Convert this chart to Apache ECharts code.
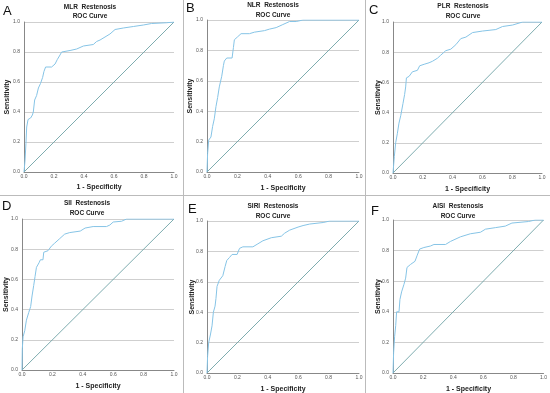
<!DOCTYPE html>
<html><head><meta charset="utf-8">
<script src="https://cdn.jsdelivr.net/npm/echarts@6/dist/echarts.min.js"></script>
<style>html,body{margin:0;padding:0;background:#fff}#c{width:550px;height:393px}</style>
</head><body><div id="c"></div>
<script>
// ---- data ----
const panelLetters = ['A','B','C','D','E','F'];
const markers = ['MLR','NLR','PLR','SII','SIRI','AISI'];
const titleSuffix = 'Restenosis';
const subTitle = 'ROC Curve';
const xAxisTitle = '1 - Specificity';
const yAxisTitle = 'Sensitivity';
const tickValues = [0, 0.2, 0.4, 0.6, 0.8, 1.0];
const diagonal = [[0,0],[1,1]];

const mlrRoc = [[0,0],[0.007,0.08],[0.013,0.19],[0.018,0.30],[0.027,0.35],[0.044,0.36],[0.056,0.38],[0.062,0.40],[0.071,0.48],[0.084,0.51],[0.096,0.56],[0.11,0.59],[0.124,0.63],[0.133,0.67],[0.144,0.70],[0.184,0.70],[0.207,0.72],[0.222,0.75],[0.24,0.78],[0.251,0.80],[0.307,0.81],[0.351,0.82],[0.396,0.84],[0.462,0.85],[0.484,0.87],[0.507,0.88],[0.54,0.90],[0.573,0.92],[0.607,0.95],[0.662,0.96],[0.729,0.97],[0.796,0.98],[0.85,0.99],[0.95,0.995],[1,1]];
const nlrRoc = [[0,0],[0.004,0.12],[0.011,0.21],[0.026,0.23],[0.037,0.30],[0.048,0.35],[0.059,0.43],[0.07,0.49],[0.081,0.56],[0.097,0.63],[0.108,0.70],[0.114,0.73],[0.13,0.75],[0.165,0.75],[0.174,0.82],[0.18,0.87],[0.202,0.89],[0.224,0.91],[0.279,0.91],[0.312,0.92],[0.378,0.93],[0.411,0.94],[0.455,0.95],[0.499,0.97],[0.543,0.99],[0.587,0.99],[0.631,1.0],[1,1]];
const plrRoc = [[0,0],[0.009,0.11],[0.018,0.20],[0.029,0.26],[0.04,0.33],[0.052,0.38],[0.067,0.46],[0.078,0.52],[0.085,0.57],[0.09,0.63],[0.108,0.64],[0.13,0.67],[0.164,0.68],[0.179,0.71],[0.209,0.72],[0.242,0.73],[0.265,0.74],[0.298,0.76],[0.32,0.78],[0.354,0.81],[0.388,0.82],[0.422,0.85],[0.455,0.89],[0.489,0.90],[0.534,0.93],[0.6,0.94],[0.69,0.95],[0.735,0.97],[0.803,0.98],[0.87,1.0],[1,1]];
const siiRoc = [[0,0],[0.002,0.14],[0.007,0.22],[0.018,0.26],[0.029,0.33],[0.044,0.38],[0.057,0.42],[0.066,0.49],[0.077,0.56],[0.086,0.62],[0.095,0.68],[0.112,0.71],[0.121,0.73],[0.138,0.73],[0.143,0.78],[0.171,0.79],[0.193,0.82],[0.215,0.84],[0.248,0.87],[0.281,0.90],[0.314,0.91],[0.383,0.92],[0.415,0.94],[0.468,0.95],[0.556,0.95],[0.578,0.96],[0.6,0.98],[0.655,0.985],[0.688,1.0],[1,1]];
const siriRoc = [[0,0],[0.004,0.11],[0.011,0.20],[0.022,0.25],[0.033,0.31],[0.042,0.40],[0.053,0.44],[0.059,0.49],[0.066,0.57],[0.081,0.61],[0.104,0.64],[0.119,0.70],[0.13,0.74],[0.148,0.76],[0.165,0.78],[0.198,0.78],[0.214,0.82],[0.236,0.83],[0.302,0.83],[0.335,0.85],[0.368,0.87],[0.423,0.89],[0.489,0.90],[0.511,0.92],[0.544,0.94],[0.599,0.96],[0.632,0.97],[0.676,0.98],[0.764,0.99],[0.808,1.0],[1,1]];
const aisiRoc = [[0,0],[0.004,0.13],[0.011,0.24],[0.018,0.31],[0.024,0.40],[0.04,0.40],[0.046,0.48],[0.057,0.53],[0.073,0.58],[0.084,0.62],[0.093,0.69],[0.117,0.71],[0.146,0.73],[0.161,0.77],[0.177,0.81],[0.205,0.82],[0.249,0.83],[0.272,0.84],[0.349,0.84],[0.382,0.86],[0.448,0.89],[0.514,0.91],[0.581,0.92],[0.614,0.94],[0.68,0.95],[0.746,0.96],[0.79,0.98],[0.9,0.99],[0.945,1.0],[1,1]];
const rocCurves = [mlrRoc, nlrRoc, plrRoc, siiRoc, siriRoc, aisiRoc];

// ---- layout ----
const grids = [
  {left:24, top:22, width:150, height:150},
  {left:207, top:20, width:152, height:152},
  {left:393, top:22, width:149, height:151},
  {left:22, top:219, width:152, height:151},
  {left:207, top:221, width:152, height:152},
  {left:393, top:220, width:151, height:153}
];
const titlePos = [
  {x:90, y1:7, y2:16},
  {x:273, y1:5, y2:15},
  {x:463, y1:6, y2:16},
  {x:87, y1:203, y2:213},
  {x:273, y1:206, y2:216},
  {x:458, y1:206, y2:216}
];
const letterPos = [
  {x:3, y:11}, {x:186, y:8}, {x:369, y:10},
  {x:2, y:206}, {x:188, y:209}, {x:371, y:211}
];
const sensX = [7, 190, 378, 6, 192, 378];
const specY = [187, 188, 189, 386, 389, 389];

const FONT = '"Liberation Sans", Arial, sans-serif';
const curveColor = '#86c4e6';
const diagColor = '#6fa3a6';

const xAxes = [], yAxes = [], series = [], graphics = [];
grids.forEach((g, i) => {
  xAxes.push({
    gridIndex: i, type: 'value', min: 0, max: 1, interval: 0.2,
    axisLine: {show: true, lineStyle: {color: '#888', width: 1}},
    axisTick: {show: false}, splitLine: {show: false},
    axisLabel: {fontSize: 5, color: '#555', margin: 2, fontFamily: FONT,
      formatter: v => v.toFixed(1)}
  });
  yAxes.push({
    gridIndex: i, type: 'value', min: 0, max: 1, interval: 0.2,
    axisLine: {show: true, lineStyle: {color: '#888', width: 1}},
    axisTick: {show: false},
    splitLine: {show: true, lineStyle: {color: '#cfcfcf', width: 1}},
    axisLabel: {fontSize: 5, color: '#555', margin: 4, fontFamily: FONT,
      formatter: v => v.toFixed(1)}
  });
  series.push({
    type: 'line', xAxisIndex: i, yAxisIndex: i, data: diagonal,
    showSymbol: false, silent: true, lineStyle: {color: diagColor, width: 0.9}
  });
  series.push({
    type: 'line', xAxisIndex: i, yAxisIndex: i, data: rocCurves[i],
    showSymbol: false, silent: true, lineStyle: {color: curveColor, width: 1}
  });
  const t = titlePos[i];
  graphics.push({type: 'text', x: t.x, y: t.y1, style: {text: markers[i] + '  ' + titleSuffix,
    font: 'bold 6.5px ' + FONT, fill: '#222', textAlign: 'center', textVerticalAlign: 'middle'}});
  graphics.push({type: 'text', x: t.x, y: t.y2, style: {text: subTitle,
    font: 'bold 6.5px ' + FONT, fill: '#222', textAlign: 'center', textVerticalAlign: 'middle'}});
  const l = letterPos[i];
  graphics.push({type: 'text', x: l.x, y: l.y, style: {text: panelLetters[i],
    font: '13px ' + FONT, fill: '#111', textAlign: 'left', textVerticalAlign: 'middle'}});
  graphics.push({type: 'text', x: sensX[i], y: g.top + g.height / 2, rotation: Math.PI / 2,
    style: {text: yAxisTitle, font: 'bold 7px ' + FONT, fill: '#222', textAlign: 'center', textVerticalAlign: 'middle'}});
  graphics.push({type: 'text', x: g.left + g.width / 2, y: specY[i],
    style: {text: xAxisTitle, font: 'bold 7px ' + FONT, fill: '#222', textAlign: 'center', textVerticalAlign: 'middle'}});
});
// panel separators
graphics.push({type: 'line', shape: {x1: 183.5, y1: 0, x2: 183.5, y2: 393}, style: {stroke: '#bbb', lineWidth: 1}});
graphics.push({type: 'line', shape: {x1: 365.5, y1: 0, x2: 365.5, y2: 393}, style: {stroke: '#bbb', lineWidth: 1}});
graphics.push({type: 'line', shape: {x1: 0, y1: 195.5, x2: 550, y2: 195.5}, style: {stroke: '#bbb', lineWidth: 1}});

const chart = echarts.init(document.getElementById('c'), null, {renderer: 'canvas'});
chart.setOption({
  animation: false,
  grid: grids,
  xAxis: xAxes,
  yAxis: yAxes,
  series: series,
  graphic: graphics
});
</script></body></html>
